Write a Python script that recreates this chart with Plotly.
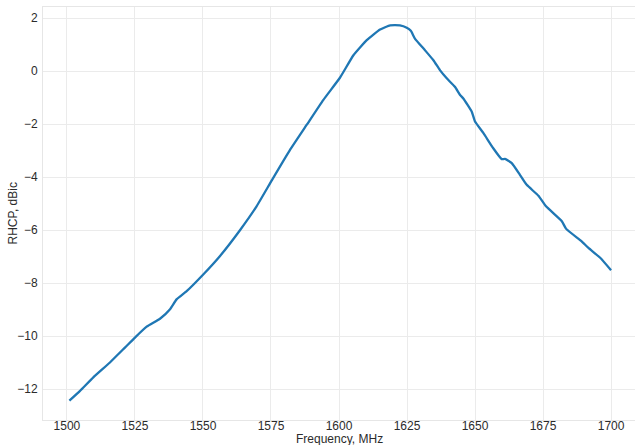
import plotly.graph_objects as go

freq_mhz = [1500.9, 1504.8, 1509.7, 1515.8, 1521.3, 1525.0, 1529.3, 1534.2, 1537.9,
            1540.3, 1544.0, 1550.1, 1556.2, 1563.6, 1569.7, 1575.3, 1582.0, 1588.1,
            1594.2, 1600.4, 1605.3, 1610.2, 1615.1, 1618.8, 1622.4, 1624.9, 1626.4,
            1627.9, 1631.6, 1634.7, 1637.1, 1639.6, 1642.6, 1644.5, 1645.7, 1648.8,
            1650.0, 1653.1, 1656.7, 1659.8, 1661.0, 1663.5, 1666.5, 1669.0, 1673.3,
            1676.1, 1681.9, 1683.5, 1689.2, 1691.7, 1696.0, 1700.0]
rhcp_dbic = [-12.43, -12.06, -11.55, -10.99, -10.43, -10.05, -9.64, -9.34, -8.98,
             -8.61, -8.30, -7.67, -6.98, -6.00, -5.10, -4.12, -2.97, -2.03,
             -1.09, -0.24, 0.60, 1.17, 1.57, 1.73, 1.73, 1.64, 1.52,
             1.23, 0.79, 0.41, 0.04, -0.27, -0.59, -0.90, -1.03, -1.53,
             -1.90, -2.34, -2.91, -3.32, -3.31, -3.47, -3.91, -4.29, -4.70,
             -5.10, -5.66, -5.95, -6.42, -6.67, -7.04, -7.51]

x_ticks = [1500, 1525, 1550, 1575, 1600, 1625, 1650, 1675, 1700]
y_ticks = [-12, -10, -8, -6, -4, -2, 0, 2]
y_tick_text = ["\u221212", "\u221210", "\u22128", "\u22126", "\u22124", "\u22122", "0", "2"]
x_title = "Frequency, MHz"
y_title = "RHCP, dBic"

fig = go.Figure()
fig.add_trace(go.Scatter(x=freq_mhz, y=rhcp_dbic, mode="lines",
                         line=dict(color="#1f77b4", width=2.3, shape="spline", smoothing=0.4)))

fig.update_layout(
    width=635, height=445,
    margin=dict(l=43, r=0, t=7, b=25, autoexpand=False),
    paper_bgcolor="white", plot_bgcolor="white",
    showlegend=False,
    font=dict(family="Liberation Sans, Arial, sans-serif", size=12, color="#2b2b2b"),
    annotations=[
        dict(text=x_title, xref="paper", yref="paper", x=0.5, y=0, yshift=-18.5,
             xanchor="center", yanchor="middle", showarrow=False,
             font=dict(size=12, color="#2b2b2b")),
        dict(text=y_title, xref="paper", yref="paper", x=0, xshift=-31, y=0.5,
             xanchor="center", yanchor="middle", showarrow=False, textangle=-90,
             font=dict(size=12, color="#2b2b2b")),
    ],
)
fig.update_xaxes(
    range=[1491.2, 1708.8], tickvals=x_ticks, ticks="", ticklabelstandoff=-5,
    automargin=False,
    showgrid=True, gridcolor="#ebebeb", gridwidth=1,
    showline=True, linecolor="#e6e6e6", linewidth=1, mirror=True, zeroline=False,
)
fig.update_yaxes(
    range=[-13.16, 2.42], tickvals=y_ticks, ticktext=y_tick_text, ticks="",
    ticklabelstandoff=2, automargin=False,
    showgrid=True, gridcolor="#ebebeb", gridwidth=1,
    showline=True, linecolor="#e6e6e6", linewidth=1, mirror=True, zeroline=False,
)

fig.write_html("out.html", config={"displayModeBar": False},
               post_script="document.body.style.margin='0';document.body.style.overflow='hidden';")
